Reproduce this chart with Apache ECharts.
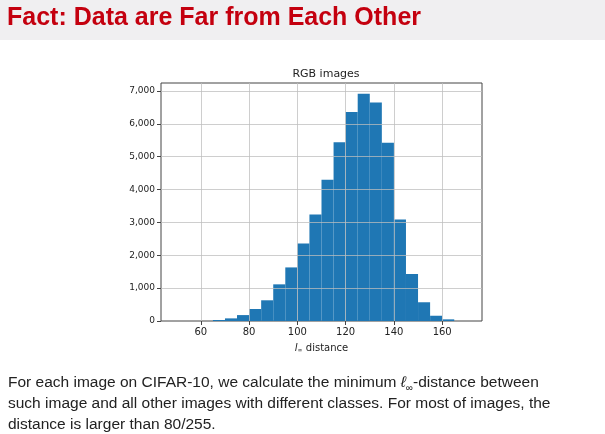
<!DOCTYPE html>
<html lang="en">
<head>
<meta charset="UTF-8">
<title>Fact: Data are Far from Each Other</title>
<script src="https://cdn.jsdelivr.net/npm/echarts@6/dist/echarts.min.js"></script>
<style>body{margin:0;background:#fff}</style>
</head>
<body>
<div id="main" style="width:605px;height:434px;"></div>
<script type="text/javascript">
// histogram bins (left edges, width 5) and counts
var binStarts = [65,70,75,80,85,90,95,100,105,110,115,120,125,130,135,140,145,150,155,160];
var counts = [30,80,180,365,630,1115,1630,2360,3240,4300,5440,6360,6910,6650,5420,3090,1430,570,160,50];
var binWidth = 5;
var xTicks = [60,80,100,120,140,160];
var yTicks = [0,1000,2000,3000,4000,5000,6000,7000];

var myChart = echarts.init(document.getElementById('main'));
var gridColor = 'rgba(190,190,190,0.75)';
var textFont = 'Liberation Sans';

var data = binStarts.map(function (s, i) { return [s, counts[i]]; });
var gridLines = xTicks.map(function (v) { return {xAxis: v}; })
    .concat(yTicks.slice(1).map(function (v) { return {yAxis: v}; }));

myChart.setOption({
    animation: false,
    textStyle: {fontFamily: 'DejaVu Sans'},
    title: {
        text: 'RGB images', left: 321, top: 64, textAlign: 'center',
        textStyle: {fontSize: 11, fontWeight: 'normal', color: '#222'}
    },
    grid: {left: 161, right: 123, top: 83, bottom: 113, show: true, borderColor: '#444', borderWidth: 1},
    xAxis: {
        type: 'value', min: 43.5, max: 176.5,
        splitLine: {show: false},
        axisLine: {show: false},
        axisTick: {show: true, customValues: xTicks, length: 4, lineStyle: {color: '#444'}},
        axisLabel: {customValues: xTicks, fontSize: 10, color: '#222', margin: 6},
        name: '{i|l}{s|∞} distance', nameLocation: 'middle', nameGap: 22,
        nameTextStyle: {fontSize: 10, color: '#222', rich: {
            i: {fontStyle: 'italic', fontSize: 10, color: '#222'},
            s: {fontSize: 6, verticalAlign: 'bottom', color: '#222', padding: [4,0,0,0]}
        }}
    },
    yAxis: {
        type: 'value', min: 0, max: 7240,
        splitLine: {show: false},
        axisLine: {show: false},
        axisTick: {show: true, customValues: yTicks, length: 4, lineStyle: {color: '#444'}},
        axisLabel: {customValues: yTicks, fontSize: 9, color: '#222', margin: 6}
    },
    series: [{
        type: 'custom',
        data: data,
        renderItem: function (params, api) {
            var p0 = api.coord([api.value(0), 0]);
            var p1 = api.coord([api.value(0) + binWidth, api.value(1)]);
            return {
                type: 'rect',
                shape: {x: p0[0], y: p1[1], width: p1[0] - p0[0], height: p0[1] - p1[1]},
                style: {fill: '#1f77b4'}
            };
        },
        markLine: {
            silent: true, symbol: 'none', z: 10,
            label: {show: false},
            lineStyle: {color: gridColor, type: 'solid', width: 1},
            data: gridLines
        }
    }],
    graphic: [
        {type: 'rect', left: 0, top: 0, shape: {width: 605, height: 40}, style: {fill: '#f0eff1'}, z: -1},
        {type: 'text', left: 7, top: 6, style: {
            text: 'Fact: Data are Far from Each Other',
            font: 'bold 25px "' + textFont + '"', fill: '#c4000f'
        }},
        {type: 'text', left: 8, top: 372, style: {
            text: 'For each image on CIFAR-10, we calculate the minimum {i|ℓ}{s|∞}-distance between\nsuch image and all other images with different classes. For most of images, the\ndistance is larger than 80/255.',
            font: '15.5px "' + textFont + '"', fill: '#222', lineHeight: 21,
            rich: {
                i: {font: 'italic 15.5px "' + textFont + '"', fill: '#222'},
                s: {font: '10px "' + textFont + '"', fill: '#222', verticalAlign: 'bottom'}
            }
        }}
    ]
});
</script>
</body>
</html>
